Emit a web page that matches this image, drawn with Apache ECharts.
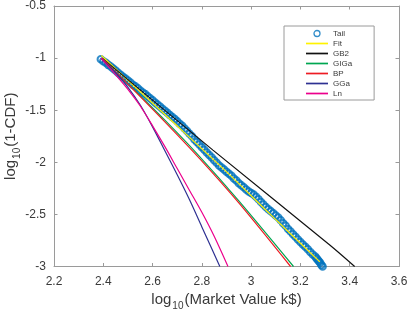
<!DOCTYPE html>
<html>
<head>
<meta charset="utf-8">
<script src="https://cdn.jsdelivr.net/npm/echarts@6/dist/echarts.min.js"></script>
<style>
html,body{margin:0;padding:0;background:#fff;}
#chart{width:407px;height:313px;}
</style>
</head>
<body>
<div id="chart"></div>
<script>
// ---- data ----
const xTicks = [2.2, 2.4, 2.6, 2.8, 3, 3.2, 3.4, 3.6];
const yTicks = [-3, -2.5, -2, -1.5, -1, -0.5];
const seriesNames = ['Tail', 'Fit', 'GB2', 'GIGa', 'BP', 'GGa', 'Ln'];

const tailX = [2.39,2.40,2.41,2.42,2.43,2.44,2.45,2.46,2.47,2.48,2.49,2.50,2.51,2.52,2.53,2.54,2.55,2.56,2.57,2.58,2.59,2.60,2.61,2.62,2.63,2.64,2.65,2.66,2.67,2.68,2.69,2.70,2.71,2.72,2.73,2.74,2.75,2.76,2.77,2.78,2.79,2.80,2.81,2.82,2.83,2.84,2.85,2.86,2.87,2.88,2.89,2.90,2.91,2.92,2.93,2.94,2.95,2.96,2.97,2.98,2.99,3.00,3.01,3.02,3.03,3.04,3.05,3.06,3.07,3.08,3.09,3.10,3.11,3.12,3.13,3.14,3.15,3.16,3.17,3.18,3.19,3.20,3.21,3.22,3.23,3.24,3.25,3.26,3.265,3.27,3.275,3.28,3.285,3.29,3.29];
const tailY = [-1.01,-1.03,-1.045,-1.065,-1.08,-1.10,-1.12,-1.14,-1.16,-1.18,-1.195,-1.215,-1.235,-1.255,-1.27,-1.29,-1.31,-1.33,-1.345,-1.365,-1.385,-1.405,-1.425,-1.445,-1.465,-1.485,-1.505,-1.525,-1.545,-1.565,-1.585,-1.605,-1.63,-1.65,-1.675,-1.70,-1.725,-1.75,-1.78,-1.805,-1.83,-1.855,-1.88,-1.905,-1.93,-1.955,-1.98,-2.005,-2.03,-2.05,-2.07,-2.09,-2.11,-2.13,-2.155,-2.175,-2.20,-2.22,-2.24,-2.26,-2.28,-2.295,-2.31,-2.33,-2.355,-2.38,-2.405,-2.43,-2.45,-2.47,-2.49,-2.51,-2.53,-2.555,-2.585,-2.61,-2.64,-2.665,-2.69,-2.715,-2.74,-2.765,-2.79,-2.81,-2.835,-2.86,-2.885,-2.905,-2.92,-2.935,-2.95,-2.965,-2.985,-3.00,-3.02];

const fitX = [2.392, 2.64, 2.893, 3.08, 3.279];
const fitY = [-0.975, -1.52, -2.075, -2.505, -2.955];

const gb2X = [2.395, 2.845, 3.319, 3.42];
const gb2Y = [-1.0, -1.883, -2.794, -3.0];

const gigaX = [2.395, 2.50, 2.65, 2.791, 2.95, 3.172];
const gigaY = [-1.0, -1.245, -1.596, -1.945, -2.37, -3.0];

const bpX = [2.395, 2.50, 2.645, 2.791, 2.95, 3.160];
const bpY = [-1.0, -1.25, -1.60, -1.965, -2.39, -3.0];

const ggaX = [2.39, 2.45, 2.50, 2.55, 2.60, 2.65, 2.70, 2.75, 2.80, 2.873];
const ggaY = [-1.0, -1.14, -1.28, -1.45, -1.66, -1.89, -2.12, -2.36, -2.62, -3.0];

const lnX = [2.39, 2.45, 2.50, 2.55, 2.60, 2.65, 2.70, 2.75, 2.80, 2.85, 2.906];
const lnY = [-1.0, -1.16, -1.30, -1.46, -1.65, -1.85, -2.06, -2.27, -2.48, -2.71, -3.0];

// ---- styling ----
const FONT = 'Liberation Sans, Arial, sans-serif';
const AXIS_COLOR = '#9a9a9a';
const TEXT_COLOR = '#3a3a3a';
const colors = {
  Tail: '#0072BD', Fit: '#fff200', GB2: '#111111', GIGa: '#00a651',
  BP: '#ed1c24', GGa: '#2e3192', Ln: '#ec008c'
};
const LINE_ICON = 'path://M0,0L22,0L22,1.7L0,1.7Z';

function pairs(xs, ys) { return xs.map((x, i) => [x, ys[i]]); }

function lineSeries(name, xs, ys, smooth) {
  return {
    name: name, type: 'line', data: pairs(xs, ys),
    showSymbol: false, symbol: 'none', smooth: smooth ? 0.3 : false,
    clip: true,
    lineStyle: { color: colors[name], width: 1.2 },
    itemStyle: { color: colors[name] },
    emphasis: { disabled: true }, animation: false
  };
}

const richName = {
  a: { fontSize: 15, lineHeight: 15, verticalAlign: 'top', fontFamily: FONT, color: TEXT_COLOR },
  s: { fontSize: 10, lineHeight: 10, verticalAlign: 'top', padding: [9, 1, 0, 1], fontFamily: FONT, color: TEXT_COLOR }
};

const xMin = xTicks[0], xMax = xTicks[xTicks.length - 1];
const yMin = yTicks[0], yMax = yTicks[yTicks.length - 1];
const xStep = +(xTicks[1] - xTicks[0]).toFixed(6);
const yStep = +(yTicks[1] - yTicks[0]).toFixed(6);

const legendData = seriesNames.map(n => n === 'Tail'
  ? { name: n, icon: 'circle', itemStyle: { color: 'transparent', borderColor: colors.Tail, borderWidth: 1.3 } }
  : { name: n, icon: LINE_ICON, itemStyle: { color: colors[n], borderWidth: 0 } });

const chart = echarts.init(document.getElementById('chart'), null, { renderer: 'canvas' });
chart.setOption({
  backgroundColor: '#ffffff',
  animation: false,
  textStyle: { fontFamily: FONT },
  grid: { left: 54, right: 8, top: 6, bottom: 46.5, containLabel: false, outerBoundsMode: 'none' },
  legend: {
    orient: 'vertical', left: 284, top: 26,
    itemWidth: 22, itemHeight: 6, itemGap: 0,
    padding: [2.5, 22, 1.5, 22],
    borderColor: AXIS_COLOR, borderWidth: 1, backgroundColor: '#ffffff',
    textStyle: { fontSize: 8, lineHeight: 10, color: TEXT_COLOR, fontFamily: FONT },
    selectedMode: false,
    data: legendData
  },
  xAxis: [{
    type: 'value', position: 'bottom', min: xMin, max: xMax, interval: xStep,
    axisLine: { show: true, onZero: false, lineStyle: { color: AXIS_COLOR, width: 1 } },
    axisTick: { show: true, inside: true, length: 3.5, lineStyle: { color: AXIS_COLOR } },
    axisLabel: { margin: 9, fontSize: 12, color: TEXT_COLOR, fontFamily: FONT },
    splitLine: { show: false },
    name: '{a|log}{s|10}{a|(Market Value k$)}',
    nameLocation: 'middle', nameGap: 25.5, nameMoveOverlap: false,
    nameTextStyle: { fontFamily: FONT, color: TEXT_COLOR, rich: richName }
  }, {
    type: 'value', position: 'top', min: xMin, max: xMax, interval: xStep,
    axisLine: { show: true, onZero: false, lineStyle: { color: AXIS_COLOR, width: 1 } },
    axisTick: { show: true, inside: true, length: 3.5, lineStyle: { color: AXIS_COLOR } },
    axisLabel: { show: false }, splitLine: { show: false }
  }],
  yAxis: [{
    type: 'value', position: 'left', min: yMin, max: yMax, interval: yStep,
    axisLine: { show: true, onZero: false, lineStyle: { color: AXIS_COLOR, width: 1 } },
    axisTick: { show: true, inside: true, length: 3.5, lineStyle: { color: AXIS_COLOR } },
    axisLabel: { margin: 8, fontSize: 12, color: TEXT_COLOR, fontFamily: FONT },
    splitLine: { show: false },
    name: '{a|log}{s|10}{a|(1-CDF)}',
    nameLocation: 'middle', nameGap: 36, nameMoveOverlap: false,
    nameTextStyle: { fontFamily: FONT, color: TEXT_COLOR, rich: richName }
  }, {
    type: 'value', position: 'right', min: yMin, max: yMax, interval: yStep,
    axisLine: { show: true, onZero: false, lineStyle: { color: AXIS_COLOR, width: 1 } },
    axisTick: { show: true, inside: true, length: 3.5, lineStyle: { color: AXIS_COLOR } },
    axisLabel: { show: false }, splitLine: { show: false }
  }],
  series: [
    {
      name: 'Tail', type: 'scatter', data: pairs(tailX, tailY),
      symbol: 'circle', symbolSize: 6.5, clip: true,
      itemStyle: { color: 'transparent', borderColor: colors.Tail, borderWidth: 2 },
      emphasis: { disabled: true }, animation: false
    },
    lineSeries('Fit', fitX, fitY, true),
    lineSeries('GB2', gb2X, gb2Y, true),
    lineSeries('GIGa', gigaX, gigaY, true),
    lineSeries('BP', bpX, bpY, true),
    lineSeries('GGa', ggaX, ggaY, true),
    lineSeries('Ln', lnX, lnY, true)
  ]
});
</script>
</body>
</html>
